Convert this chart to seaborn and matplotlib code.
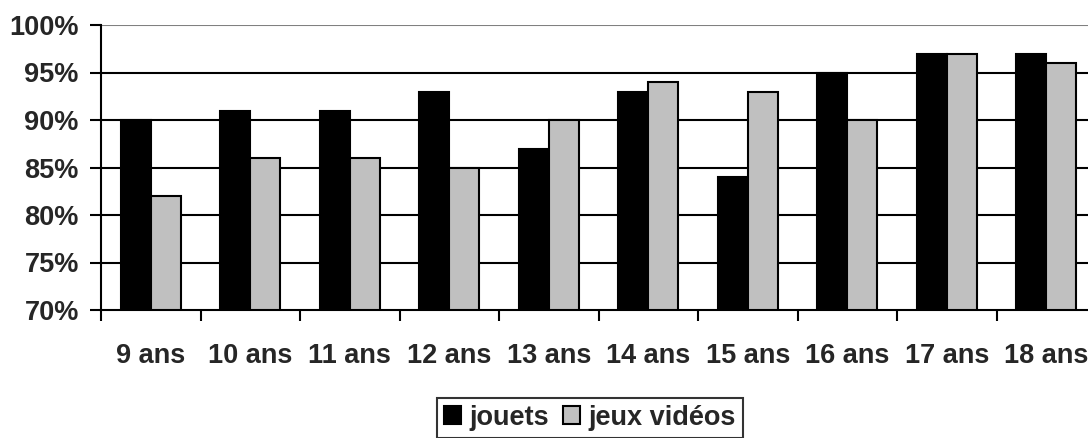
import numpy as np
import pandas as pd
import matplotlib
matplotlib.use('Agg')
import matplotlib.pyplot as plt
import seaborn as sns
from matplotlib.ticker import FixedLocator, PercentFormatter

# données
ages = ['9 ans', '10 ans', '11 ans', '12 ans', '13 ans',
        '14 ans', '15 ans', '16 ans', '17 ans', '18 ans']
jouets = [90, 91, 91, 93, 87, 93, 84, 95, 97, 97]
jeux_videos = [82, 86, 86, 85, 90, 94, 93, 90, 97, 96]
series = ['jouets', 'jeux vidéos']
couleurs = ['#000000', '#C0C0C0']

df = pd.DataFrame({
    'age': ages * 2,
    'valeur': jouets + jeux_videos,
    'serie': [series[0]] * len(ages) + [series[1]] * len(ages),
})

sns.set_style('white')
plt.rcParams['font.family'] = ['Liberation Sans', 'DejaVu Sans']
plt.rcParams['font.weight'] = 'bold'

W, H = 1088, 438
fig = plt.figure(figsize=(W / 100, H / 100), dpi=100)
ax = fig.add_axes([101 / W, (H - 310) / H, 995 / W, 285 / H])

sns.barplot(data=df, x='age', y='valeur', hue='serie', palette=couleurs,
            edgecolor='black', linewidth=1.5, width=0.6, ax=ax,
            zorder=3, legend=True)

ax.set_ylim(70, 100)
ax.set_xlim(-0.5, len(ages) - 0.5)
ax.set_yticks(np.arange(70, 101, 5))
ax.yaxis.set_major_formatter(PercentFormatter(decimals=0))

# grille horizontale
for v in range(75, 100, 5):
    ax.axhline(v, color='black', lw=1.5, zorder=1)
ax.axhline(100, color='#808080', lw=1.5, zorder=1)

for s in ['top', 'right']:
    ax.spines[s].set_visible(False)
for s in ['left', 'bottom']:
    ax.spines[s].set_color('black')
    ax.spines[s].set_linewidth(1.5)
    ax.spines[s].set_zorder(4)

ax.tick_params(axis='y', direction='out', length=8, width=1.5, color='black',
               left=True, labelsize=19.5, pad=8)
ax.tick_params(axis='x', which='major', length=0, labelsize=19.5, pad=24)
ax.xaxis.set_minor_locator(FixedLocator(np.arange(-0.5, len(ages), 1)))
ax.tick_params(axis='x', which='minor', direction='out', length=8, width=1.5,
               color='black', bottom=True)
for lab in ax.get_xticklabels() + ax.get_yticklabels():
    lab.set_fontweight('bold')

ax.set_xlabel('')
ax.set_ylabel('')

handles, labels = ax.get_legend_handles_labels()
ax.legend_.remove()
leg = fig.legend(handles, labels, loc='upper left',
                 bbox_to_anchor=(437 / W, 1 - 398 / H), ncol=2,
                 frameon=True, fancybox=False, edgecolor='black',
                 prop={'size': 19.5, 'weight': 'bold'},
                 handlelength=0.65, handleheight=0.65, handletextpad=0.3,
                 columnspacing=0.5, borderpad=0.25, borderaxespad=0)
leg.get_frame().set_linewidth(1.5)

fig.savefig('out.png', dpi=100)
